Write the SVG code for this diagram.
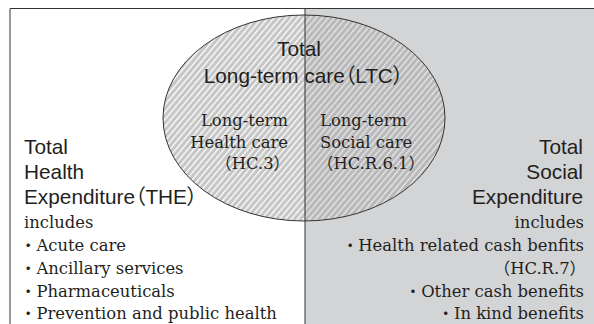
<svg xmlns="http://www.w3.org/2000/svg" width="594" height="324" viewBox="0 0 594 324">
<style>
.sans{font-family:"Liberation Sans","Noto Sans CJK JP",sans-serif;font-size:20.8px;fill:#231f20;font-feature-settings:"palt";}
.ser{font-family:"DejaVu Serif","Noto Sans CJK JP",serif;font-size:16.4px;fill:#231f20;}
.line{stroke:#333;stroke-width:1;fill:none;}
</style>
<defs>
<pattern id="hL" patternUnits="userSpaceOnUse" width="4.6" height="10" patternTransform="rotate(40)">
<rect width="4.6" height="10" fill="#c6c6c6"/>
<rect x="0" width="1.3" height="10" fill="#ffffff"/>
</pattern>
<pattern id="hR" patternUnits="userSpaceOnUse" width="4.6" height="10" patternTransform="rotate(40)">
<rect width="4.6" height="10" fill="#b9b9bb"/>
<rect x="0" width="1.3" height="10" fill="#e8e8e8"/>
</pattern>
<clipPath id="cl"><rect x="0" y="0" width="305" height="324"/></clipPath>
<clipPath id="cr"><rect x="305" y="0" width="289" height="324"/></clipPath>
</defs>
<g id="background">
<rect x="305" y="8" width="289" height="316" fill="#d3d4d6"/>
</g>
<g id="ltc">
<ellipse cx="304" cy="118" rx="141" ry="103" fill="url(#hL)" clip-path="url(#cl)"/>
<ellipse cx="304" cy="118" rx="141" ry="103" fill="url(#hR)" clip-path="url(#cr)"/>
<ellipse cx="304" cy="118" rx="141" ry="103" class="line"/>
<text class="sans" x="299" y="56" text-anchor="middle">Total</text>
<text class="sans" x="303.5" y="83" text-anchor="middle">Long-term care（LTC）</text>
</g>
<g id="connectors">
<path class="line" d="M10,324 V8.5 H594"/>
<path class="line" d="M305,8.5 V324"/>
</g>
<g id="lthc">
<text class="ser" x="288" y="126" text-anchor="end">Long-term</text>
<text class="ser" x="288" y="148" text-anchor="end">Health care</text>
<text class="ser" x="290" y="169" text-anchor="end">（HC.3）</text>
</g>
<g id="ltsc">
<text class="ser" x="320" y="126">Long-term</text>
<text class="ser" x="320" y="148">Social care</text>
<text class="ser" x="317" y="169">（HC.R.6.1）</text>
</g>
<g id="the">
<text class="sans" x="24" y="154">Total</text>
<text class="sans" x="24" y="179">Health</text>
<text class="sans" x="24" y="204">Expenditure（THE）</text>
<text class="ser" x="24" y="228">includes</text>
<text class="ser" x="20" y="251">・Acute care</text>
<text class="ser" x="20" y="274">・Ancillary services</text>
<text class="ser" x="20" y="297">・Pharmaceuticals</text>
<text class="ser" x="20" y="319">・Prevention and public health</text>
</g>
<g id="tse">
<text class="sans" x="583" y="154" text-anchor="end">Total</text>
<text class="sans" x="583" y="179" text-anchor="end">Social</text>
<text class="sans" x="583" y="204" text-anchor="end">Expenditure</text>
<text class="ser" x="584" y="228" text-anchor="end">includes</text>
<text class="ser" x="584" y="251" text-anchor="end">・Health related cash benfits</text>
<text class="ser" x="586" y="274" text-anchor="end">（HC.R.7）</text>
<text class="ser" x="584" y="297" text-anchor="end">・Other cash benefits</text>
<text class="ser" x="584" y="319" text-anchor="end">・In kind benefits</text>
</g>
</svg>
